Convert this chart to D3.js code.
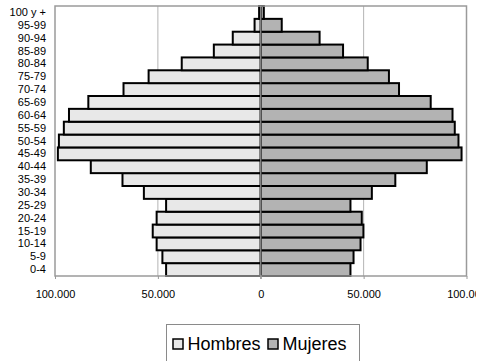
<!DOCTYPE html>
<html>
<head>
<meta charset="utf-8">
<script src="https://cdn.jsdelivr.net/npm/d3@7"></script>
<style>
  html, body { margin: 0; padding: 0; background: #fff; }
  svg { display: block; font-family: "Liberation Sans", Arial, sans-serif; }
</style>
</head>
<body>
<svg id="chart" width="480" height="361"></svg>
<script>
// Age groups, bottom to top
const ageGroups = ["0-4","5-9","10-14","15-19","20-24","25-29","30-34","35-39","40-44","45-49","50-54","55-59","60-64","65-69","70-74","75-79","80-84","85-89","90-94","95-99","100 y +"];
const hombres = [46000,47800,50600,52500,50600,46000,56800,67200,82600,98600,98100,95700,93200,83800,66700,54500,38400,22800,13600,3000,800];
const mujeres = [43600,45100,48500,49900,49100,43600,54000,65400,80700,97600,96100,94300,93200,82600,67200,62300,52000,40000,28600,10200,1500];
const xTicks = [-100000, -50000, 0, 50000, 100000];
const seriesNames = ["Hombres", "Mujeres"];
const seriesColors = ["#e8e8e8", "#b3b3b3"];

const svg = d3.select("#chart");
const pLeft = 55, pRight = 466.5, pTop = 6, pBottom = 276;

const x = d3.scaleLinear().domain([-100000, 100000]).range([pLeft, pRight]);
const y = d3.scaleBand().domain(ageGroups.slice().reverse()).range([pTop, pBottom]).padding(0);

const fmt = v => d3.format(",")(Math.abs(v)).replace(/,/g, ".");

// plot background
svg.append("rect").attr("x", pLeft).attr("y", pTop).attr("width", pRight - pLeft).attr("height", pBottom - pTop)
  .attr("fill", "#fff");

// gridlines
svg.append("g").selectAll("line").data(xTicks.filter(d => d !== -100000 && d !== 100000)).join("line")
  .attr("x1", d => x(d)).attr("x2", d => x(d)).attr("y1", pTop).attr("y2", pBottom)
  .attr("stroke", "#b4b4b4").attr("stroke-width", 1);

// bars
const data = ageGroups.map((a, i) => ({ age: a, h: hombres[i], m: mujeres[i] }));
svg.append("g").selectAll("rect").data(data).join("rect")
  .attr("x", d => x(-d.h)).attr("width", d => x(0) - x(-d.h))
  .attr("y", d => y(d.age)).attr("height", y.bandwidth())
  .attr("fill", seriesColors[0]).attr("stroke", "#000").attr("stroke-width", 2);
svg.append("g").selectAll("rect").data(data).join("rect")
  .attr("x", x(0)).attr("width", d => x(d.m) - x(0))
  .attr("y", d => y(d.age)).attr("height", y.bandwidth())
  .attr("fill", seriesColors[1]).attr("stroke", "#000").attr("stroke-width", 2);

// zero axis line
svg.append("line").attr("x1", x(0)).attr("x2", x(0)).attr("y1", pTop).attr("y2", pBottom + 3)
  .attr("stroke", "#999").attr("stroke-width", 1.2);

// plot border
svg.append("rect").attr("x", pLeft).attr("y", pTop).attr("width", pRight - pLeft).attr("height", pBottom - pTop)
  .attr("fill", "none").attr("stroke", "#9a9a9a").attr("stroke-width", 1.5);

// x axis
const clip = svg.append("defs").append("clipPath").attr("id", "clipx");
clip.append("rect").attr("x", 0).attr("y", 0).attr("width", 476).attr("height", 361);
const xAxis = d3.axisBottom(x).tickValues(xTicks).tickFormat(fmt).tickSize(3).tickPadding(11);
const gx = svg.append("g").attr("transform", `translate(0,${pBottom})`).attr("clip-path", "url(#clipx)").call(xAxis);
gx.select(".domain").remove();
gx.selectAll(".tick line").attr("stroke", "#999");
gx.selectAll(".tick text").attr("font-size", 11).attr("fill", "#000")
  .attr("font-family", "Liberation Sans, Arial, sans-serif");

// y axis labels
const yAxis = d3.axisLeft(y).tickSize(0).tickPadding(9);
const gy = svg.append("g").attr("transform", `translate(${pLeft},0)`).call(yAxis);
gy.select(".domain").remove();
gy.selectAll(".tick text").attr("font-size", 11).attr("fill", "#000")
  .attr("font-family", "Liberation Sans, Arial, sans-serif");

// legend
const lg = svg.append("g");
lg.append("rect").attr("x", 166.5).attr("y", 324.5).attr("width", 193).attr("height", 45)
  .attr("fill", "#fff").attr("stroke", "#8a8a8a").attr("stroke-width", 1);
const legendX = [173, 268];
seriesNames.forEach((name, i) => {
  lg.append("rect").attr("x", legendX[i]).attr("y", 339).attr("width", 10).attr("height", 10)
    .attr("fill", seriesColors[i]).attr("stroke", "#000").attr("stroke-width", 1.5);
  lg.append("text").attr("x", legendX[i] + 14.5).attr("y", 349.5).attr("font-size", 18)
    .attr("fill", "#000").text(name);
});
</script>
</body>
</html>
